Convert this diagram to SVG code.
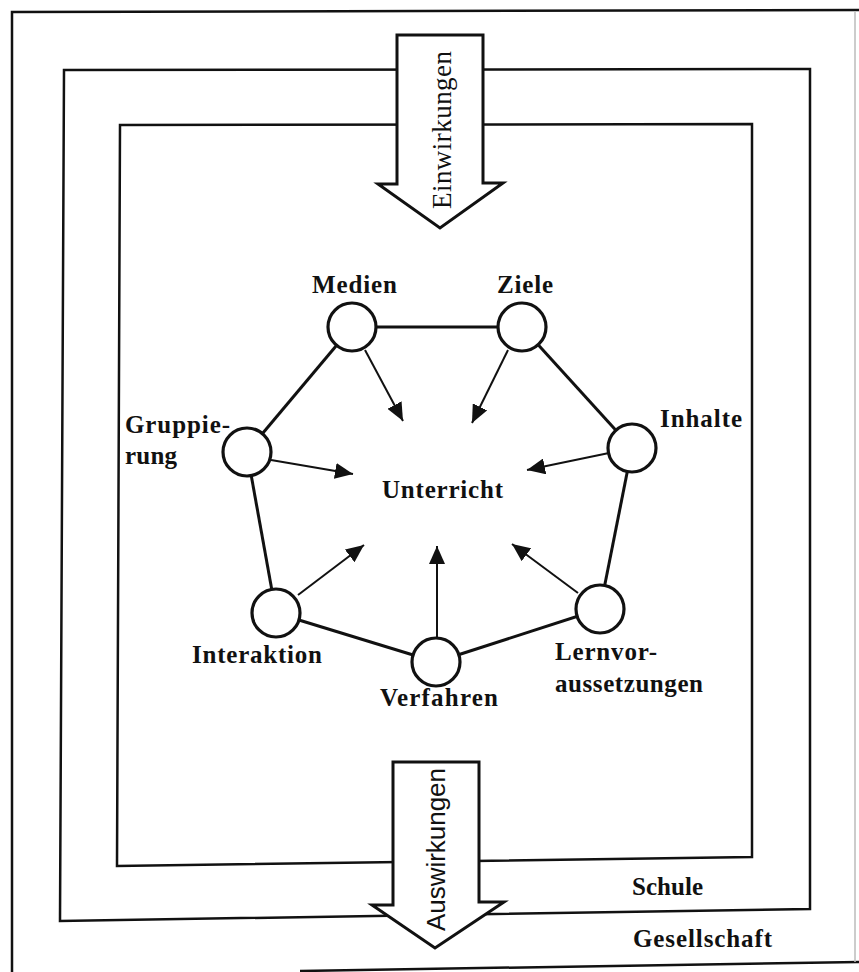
<svg xmlns="http://www.w3.org/2000/svg" width="859" height="972" viewBox="0 0 859 972">
  <style>
    .frame { fill: none; stroke: #111; stroke-width: 2.5; stroke-linejoin: miter; }
    .big-arrow { fill: #fff; stroke: #111; stroke-width: 3; stroke-linejoin: miter; }
    .edge { stroke: #111; stroke-width: 3; fill: none; }
    .flow { stroke: #111; stroke-width: 2; fill: none; marker-end: url(#head); }
    .node circle { fill: #fff; stroke: #111; stroke-width: 3.2; }
    .lbl { font-family: "Liberation Serif", "Times New Roman", serif; font-weight: bold; font-size: 25px; fill: #111; }
    .area { font-family: "Liberation Serif", "Times New Roman", serif; font-weight: bold; font-size: 25px; fill: #111; }
    .vserif { font-family: "Liberation Serif", "Times New Roman", serif; font-size: 27px; fill: #111; }
    .vsans { font-family: "Liberation Sans", Arial, sans-serif; font-size: 26px; fill: #111; }
  </style>
  <defs>
    <marker id="head" markerUnits="userSpaceOnUse" markerWidth="20" markerHeight="16" viewBox="0 0 20 16" refX="18" refY="8" orient="auto">
      <path d="M0,0 L18,8 L0,16 Z" fill="#111"/>
    </marker>
  </defs>

  <rect width="859" height="972" fill="#fff"/>

  <!-- Gesellschaft / Schule / Unterricht frames -->
  <g id="frames">
    <path class="frame" d="M12,972 L12,12 L859,10"/>
    <path class="frame" d="M300,971 L859,962"/>
    <path d="M855,12 L855,962" stroke="#bbb" stroke-width="1.5" fill="none"/>
    <path class="frame" d="M64,70 L810,69 L810,909 L60,921 Z"/>
    <path class="frame" d="M120,125 L752,124 L752,857 L117,866 Z"/>
    <text class="area" x="632" y="895" textLength="71">Schule</text>
    <text class="area" x="633" y="947" textLength="139">Gesellschaft</text>
  </g>

  <!-- influence arrows -->
  <g id="einwirkungen">
    <polygon class="big-arrow" points="397,35 483,35 483,183 503,183 440,228 378,184 397,184"/>
    <text class="vserif" transform="translate(451,209) rotate(-90)" textLength="158">Einwirkungen</text>
  </g>
  <g id="auswirkungen">
    <polygon class="big-arrow" points="393,762 479,762 479,902 504,902 435,948 372,905 393,905"/>
    <text class="vsans" transform="translate(445,931) rotate(-90)" textLength="163">Auswirkungen</text>
  </g>

  <!-- connectors -->
  <g id="connectors">
    <line class="edge" x1="352" y1="327" x2="522" y2="327"/>
    <line class="edge" x1="352" y1="327" x2="247" y2="452"/>
    <line class="edge" x1="522" y1="327" x2="632" y2="448"/>
    <line class="edge" x1="632" y1="448" x2="600" y2="609"/>
    <line class="edge" x1="247" y1="452" x2="276" y2="613"/>
    <line class="edge" x1="276" y1="613" x2="436" y2="662"/>
    <line class="edge" x1="436" y1="662" x2="600" y2="609"/>

    <line class="flow" x1="365" y1="350" x2="403" y2="421"/>
    <line class="flow" x1="508" y1="350" x2="472" y2="423"/>
    <line class="flow" x1="609" y1="453" x2="527" y2="470"/>
    <line class="flow" x1="271" y1="460" x2="353" y2="474"/>
    <line class="flow" x1="298" y1="595" x2="364" y2="545"/>
    <line class="flow" x1="437" y1="637" x2="437" y2="546"/>
    <line class="flow" x1="578" y1="593" x2="512" y2="544"/>
  </g>

  <!-- nodes -->
  <g id="medien" class="node">
    <circle cx="352" cy="327" r="24"/>
    <text class="lbl" x="312" y="293" textLength="85">Medien</text>
  </g>
  <g id="ziele" class="node">
    <circle cx="522" cy="327" r="24"/>
    <text class="lbl" x="497" y="293" textLength="56">Ziele</text>
  </g>
  <g id="inhalte" class="node">
    <circle cx="632" cy="448" r="24"/>
    <text class="lbl" x="660" y="427" textLength="82">Inhalte</text>
  </g>
  <g id="gruppierung" class="node">
    <circle cx="247" cy="452" r="24"/>
    <text class="lbl" x="125" y="433" textLength="105">Gruppie-</text>
    <text class="lbl" x="125" y="464" textLength="52">rung</text>
  </g>
  <g id="lernvoraussetzungen" class="node">
    <circle cx="600" cy="609" r="24"/>
    <text class="lbl" x="555" y="660" textLength="102">Lernvor-</text>
    <text class="lbl" x="555" y="692" textLength="148">aussetzungen</text>
  </g>
  <g id="verfahren" class="node">
    <circle cx="436" cy="662" r="24"/>
    <text class="lbl" x="380" y="706" textLength="118">Verfahren</text>
  </g>
  <g id="interaktion" class="node">
    <circle cx="276" cy="613" r="24"/>
    <text class="lbl" x="192" y="663" textLength="130">Interaktion</text>
  </g>
  <g id="unterricht">
    <text class="lbl" x="382" y="498" textLength="121">Unterricht</text>
  </g>
</svg>
